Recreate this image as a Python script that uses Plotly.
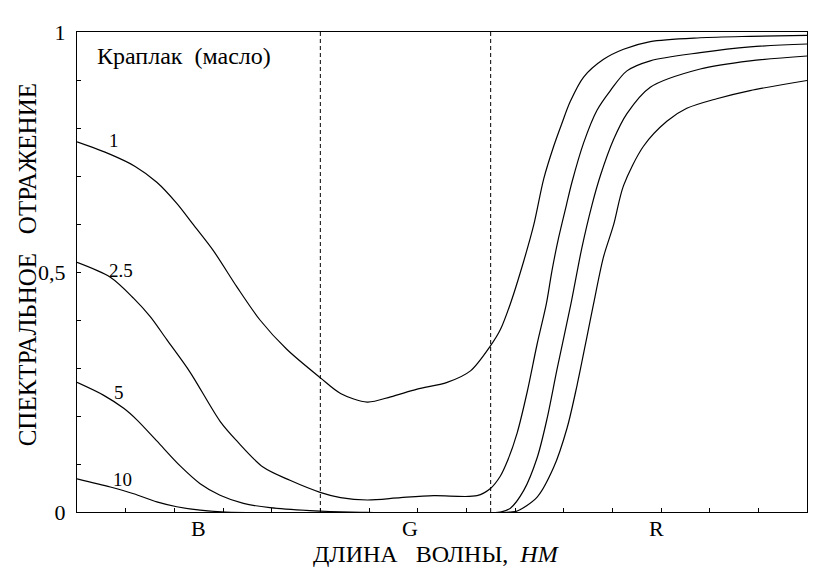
import plotly.graph_objects as go

# Wavelength (nm) and spectral reflectance for each concentration curve
wl_1 = [400.0, 413.7, 423.9, 432.8, 441.0, 447.9, 456.1, 465.7, 475.2, 486.2, 499.9, 508.3,
        519.3, 528.9, 539.8, 552.1, 561.7, 569.9, 574.0, 578.1, 583.6, 587.7, 591.8, 595.9,
        599.3, 602.7, 608.2, 616.4, 624.6, 635.6, 656.1, 676.6, 700.0]
r_1 = [0.771, 0.745, 0.720, 0.687, 0.643, 0.598, 0.544, 0.469, 0.400, 0.339, 0.280, 0.247,
       0.229, 0.240, 0.256, 0.270, 0.294, 0.346, 0.380, 0.434, 0.523, 0.598, 0.694, 0.762,
       0.810, 0.855, 0.906, 0.943, 0.964, 0.980, 0.988, 0.991, 0.993]

wl_25 = [400.0, 413.7, 423.3, 430.1, 436.9, 446.5, 458.8, 465.7, 476.6, 487.5, 499.9, 508.3,
         519.3, 533.0, 546.6, 564.4, 569.9, 574.0, 576.8, 580.9, 585.0, 589.1, 592.9, 595.2,
         597.9, 601.1, 603.4, 608.2, 613.7, 619.2, 626.0, 635.6, 656.1, 676.6, 700.0]
r_25 = [0.520, 0.489, 0.445, 0.407, 0.359, 0.291, 0.189, 0.148, 0.093, 0.066, 0.041, 0.030,
        0.025, 0.030, 0.034, 0.034, 0.049, 0.075, 0.105, 0.165, 0.250, 0.350, 0.434, 0.503,
        0.571, 0.639, 0.687, 0.769, 0.837, 0.878, 0.919, 0.940, 0.957, 0.969, 0.975]

wl_5 = [400.0, 411.0, 419.2, 424.6, 432.8, 442.4, 450.6, 458.8, 468.4, 479.3, 495.7, 512.5,
        574.0, 578.1, 583.6, 589.1, 593.2, 597.3, 603.0, 607.5, 611.6, 615.1, 620.5, 626.0,
        635.6, 656.1, 676.6, 700.0]
r_5 = [0.270, 0.243, 0.216, 0.192, 0.148, 0.096, 0.059, 0.035, 0.018, 0.009, 0.003, 0.0,
       0.0, 0.008, 0.045, 0.113, 0.195, 0.298, 0.434, 0.551, 0.639, 0.701, 0.776, 0.830,
       0.885, 0.923, 0.940, 0.950]

wl_10 = [400.0, 413.7, 423.3, 432.8, 441.0, 450.6, 461.2, 578.1, 580.9, 589.1, 595.9, 601.4,
         605.5, 609.6, 612.3, 616.3, 620.5, 624.6, 632.8, 642.4, 650.6, 662.9, 676.6, 700.0]
r_10 = [0.069, 0.052, 0.038, 0.021, 0.011, 0.004, 0.0, 0.0, 0.002, 0.031, 0.093, 0.175,
        0.264, 0.366, 0.434, 0.530, 0.598, 0.680, 0.762, 0.814, 0.841, 0.861, 0.878, 0.899]

curve_names = ["1", "2.5", "5", "10"]
label_x = [415.2, 418.1, 417.2, 418.9]
label_y = [0.773, 0.504, 0.248, 0.068]

band_names = ["B", "G", "R"]
band_centers = [450, 537, 638]
band_edges = [500, 570]

x_ticks = list(range(400, 701, 20))
y_ticks = [round(i * 0.1, 1) for i in range(11)]
y_ticktext = ["0", "", "", "", "", "0,5", "", "", "", "", "1"]

FONT = "Liberation Serif"

fig = go.Figure()
for wl, r in [(wl_1, r_1), (wl_25, r_25), (wl_5, r_5), (wl_10, r_10)]:
    fig.add_trace(go.Scatter(x=wl, y=r, mode="lines",
                             line=dict(color="black", width=1.2, shape="spline", smoothing=0.85),
                             showlegend=False, hoverinfo="skip", cliponaxis=False))

for e in band_edges:
    fig.add_shape(type="line", xref="x", yref="paper", x0=e, x1=e, y0=0, y1=1,
                  line=dict(color="black", width=1, dash="4px,3px"))

for name, lx, ly in zip(curve_names, label_x, label_y):
    fig.add_annotation(x=lx, y=ly, text=name, showarrow=False,
                       font=dict(family=FONT, size=19, color="black"))

for name, bx in zip(band_names, band_centers):
    fig.add_annotation(x=bx, xref="x", y=0, yref="paper", yshift=-16, text=name,
                       showarrow=False, yanchor="middle",
                       font=dict(family=FONT, size=22, color="black"))

fig.add_annotation(x=0.0247, xref="paper", y=0.951, yref="paper", xanchor="left",
                   yanchor="middle", text="Краплак\u00a0\u00a0(масло)", showarrow=False,
                   font=dict(family=FONT, size=24, color="black"))

fig.add_annotation(x=0.4925, xref="paper", y=-0.088, yref="paper", xanchor="center",
                   yanchor="middle",
                   text="ДЛИНА\u00a0\u00a0\u00a0ВОЛНЫ,\u00a0\u00a0<i>НМ</i>", showarrow=False,
                   font=dict(family=FONT, size=24, color="black"))

fig.add_annotation(x=-0.0685, xref="paper", y=0.516, yref="paper", xanchor="center",
                   yanchor="middle", textangle=-90,
                   text="СПЕКТРАЛЬНОЕ\u00a0\u00a0\u00a0ОТРАЖЕНИЕ", showarrow=False,
                   font=dict(family=FONT, size=25, color="black"))

fig.update_layout(
    width=814, height=570,
    margin=dict(l=69, r=15, t=16, b=66),
    paper_bgcolor="white", plot_bgcolor="white",
    font=dict(family=FONT),
    xaxis=dict(range=[400, 700], tickvals=x_ticks, showticklabels=False,
               ticks="inside", ticklen=4, tickcolor="black", tickwidth=1,
               showgrid=False, zeroline=False, showline=True, linecolor="black",
               linewidth=1, mirror=True),
    yaxis=dict(range=[0, 1], tickvals=y_ticks, ticktext=y_ticktext,
               ticks="inside", ticklen=4, tickcolor="black", tickwidth=1,
               showgrid=False, zeroline=False, showline=True, linecolor="black",
               linewidth=1, mirror=True, ticklabelstandoff=6,
               tickfont=dict(family=FONT, size=22, color="black")),
)

fig.write_html("out.html")
